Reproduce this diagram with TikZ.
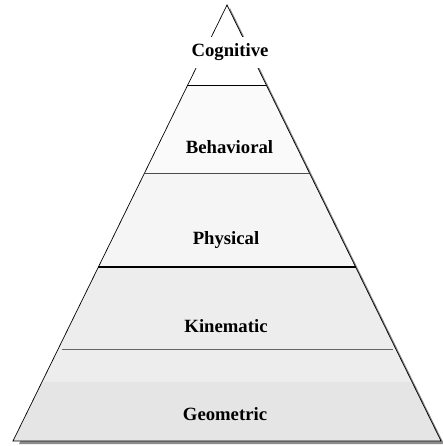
\documentclass[tikz,border=0pt]{standalone}
\usepackage{fontspec}
\setmainfont{Liberation Serif}
\usetikzlibrary{calc}

\begin{document}
\begin{tikzpicture}[x=1pt, y=-1pt, layer/.style={font=\fontsize{18.7}{20}\selectfont\bfseries, inner sep=1pt}]
	\useasboundingbox (0,0) rectangle (442,446);
	\coordinate (apex) at (227,5);
	\coordinate (bl) at (13,441);
	\coordinate (br) at (441,441);
	% shadow
	\fill[black!45] ($(apex)+(3,3)$) -- ($(br)+(3,3)$) -- ($(bl)+(6,3)$) -- cycle;
	% bands
	\foreach \a/\b/\col in {0/0.1835/white, 0.1835/0.3853/black!2, 0.3853/0.6009/black!4, 0.6009/0.8647/black!7, 0.8647/1/black!10}
		\fill[\col] ($(apex)!\a!(bl)$) -- ($(apex)!\b!(bl)$) -- ($(apex)!\b!(br)$) -- ($(apex)!\a!(br)$) -- cycle;
	\draw[line width=0.7pt] (bl) -- (apex) -- (br) -- cycle;
	\draw[line width=0.7pt] ($(apex)!0.1835!(bl)$) -- ($(apex)!0.1835!(br)$);
	\draw[line width=0.8pt, black!70] ($(apex)!0.3853!(bl)$) -- ($(apex)!0.3853!(br)$);
	\draw[line width=1.3pt] ($(apex)!0.6009!(bl)$) -- ($(apex)!0.6009!(br)$);
	\draw[line width=0.9pt, black!60] ($(apex)!0.789!(bl)+(4,0)$) -- ($(apex)!0.789!(br)+(-3,0)$);
	% labels
	\node[layer, fill=white, minimum height=31pt] (cog) at (230,52.5) {Cognitive};
	\node[layer] (beh) at (229.5,147) {Behavioral};
	\node[layer] (phy) at (226,240) {Physical};
	\node[layer] (kin) at (226,326) {Kinematic};
	\node[layer] (geo) at (225,414) {Geometric};
\end{tikzpicture}
\end{document}
